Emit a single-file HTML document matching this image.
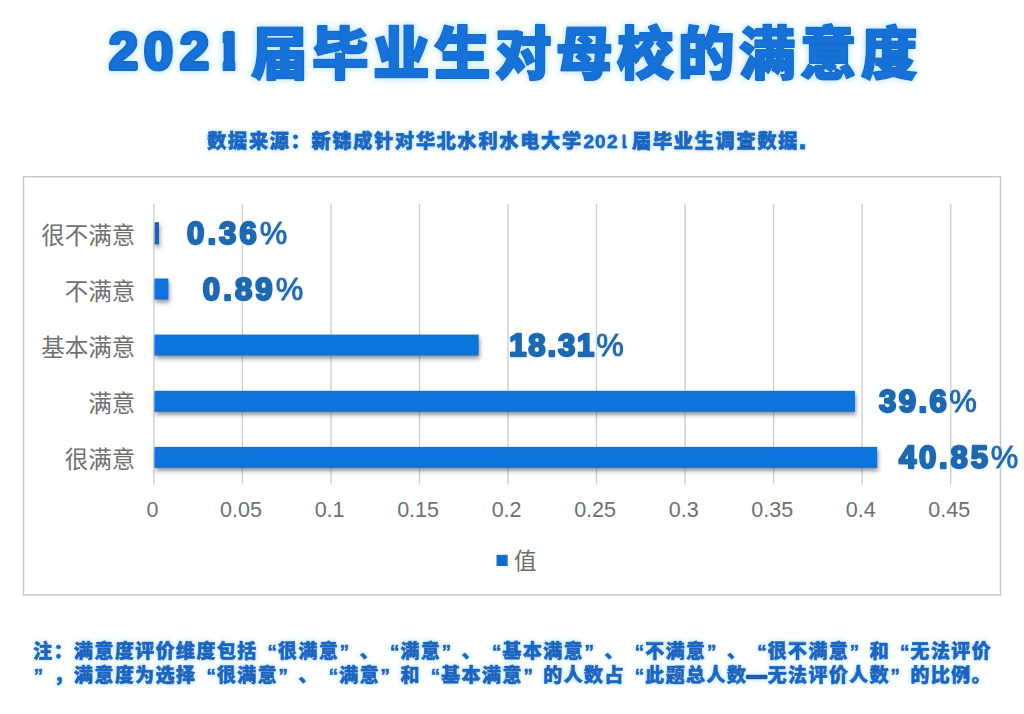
<!DOCTYPE html>
<html lang="zh-CN"><head><meta charset="utf-8"><title>2021届毕业生对母校的满意度</title>
<style>
html,body{margin:0;padding:0;background:#fff;}
body{width:1024px;height:714px;overflow:hidden;}
svg{display:block;}
.cjk{font-family:"Liberation Sans","Noto Sans CJK SC",sans-serif;}
.lat{font-family:"Liberation Sans",sans-serif;}
.title{font-weight:900;fill:#1272d8;stroke:#156cc9;stroke-width:2.1px;stroke-linejoin:round;paint-order:stroke fill;}
.sub{font-weight:900;font-size:19.2px;fill:#1868c8;stroke:#17559e;stroke-width:0.8px;stroke-linejoin:round;paint-order:stroke fill;}
.note{font-weight:900;font-size:19px;fill:#1766c6;stroke:#17529a;stroke-width:0.7px;stroke-linejoin:round;paint-order:stroke fill;}
.pc{font-weight:400;stroke-width:1.0px;}
.cat{font-weight:400;font-size:23.5px;fill:#707070;text-anchor:end;}
.ax{font-weight:400;font-size:21.5px;fill:#707070;text-anchor:middle;}
.val{font-weight:700;font-size:31px;fill:#1e69b0;stroke:#1e69b0;stroke-width:2.4px;stroke-linejoin:round;paint-order:stroke fill;}
</style></head><body>
<svg width="1024" height="714" viewBox="0 0 1024 714">
<defs>
<filter id="glow" x="-5%" y="-30%" width="110%" height="160%"><feGaussianBlur in="SourceAlpha" stdDeviation="3" result="b"/><feFlood flood-color="#c4ecff" flood-opacity="1"/><feComposite in2="b" operator="in" result="g"/><feMerge><feMergeNode in="g"/><feMergeNode in="g"/><feMergeNode in="SourceGraphic"/></feMerge></filter>
<filter id="glow2" x="-5%" y="-40%" width="110%" height="180%"><feGaussianBlur in="SourceAlpha" stdDeviation="2.2" result="b"/><feFlood flood-color="#c4ecff" flood-opacity="1"/><feComposite in2="b" operator="in" result="g"/><feMerge><feMergeNode in="g"/><feMergeNode in="g"/><feMergeNode in="SourceGraphic"/></feMerge></filter>
<filter id="glow3" x="-5%" y="-40%" width="110%" height="180%"><feGaussianBlur in="SourceAlpha" stdDeviation="1.6" result="b"/><feFlood flood-color="#d2eeff" flood-opacity="1"/><feComposite in2="b" operator="in" result="g"/><feMerge><feMergeNode in="g"/><feMergeNode in="SourceGraphic"/></feMerge></filter>
<filter id="bsh" x="-5%" y="-30%" width="110%" height="190%"><feGaussianBlur in="SourceAlpha" stdDeviation="1.9" result="b"/><feOffset in="b" dx="1.2" dy="3" result="o"/><feFlood flood-color="#3f4f68" flood-opacity="0.6"/><feComposite in2="o" operator="in" result="s"/><feMerge><feMergeNode in="s"/><feMergeNode in="SourceGraphic"/></feMerge></filter>
<clipPath id="c2021s"><rect x="578" y="120" width="40.6" height="40"/><rect x="622.6" y="120" width="4.3" height="40"/></clipPath>
<clipPath id="c2021"><rect x="95" y="10" width="117" height="80"/><rect x="222.7" y="10" width="12.7" height="80"/></clipPath>
<linearGradient id="bg" x1="0" y1="0" x2="0" y2="1"><stop offset="0" stop-color="#1c70c2"/><stop offset="0.14" stop-color="#0b74dc"/><stop offset="0.82" stop-color="#0874de"/><stop offset="1" stop-color="#186fc6"/></linearGradient>
</defs>
<rect x="0" y="0" width="1024" height="714" fill="#ffffff"/>
<g filter="url(#glow)" class="title cjk">
<text x="108.9 143.9 180.0 213.6" y="68.6" font-size="52" class="lat" clip-path="url(#c2021)" style="stroke-width:4.2px">2021</text>
<text x="251.0 312.0 373.0 434.0 495.0 556.0 617.0 678.0 739.0 800.0 861.0" y="73.5" font-size="56.5">届毕业生对母校的满意度</text>
</g>
<g filter="url(#glow2)" class="sub cjk">
<text x="207.2 228.1 248.9 269.8 290.7 311.6 332.4 353.3 374.2 395.0 415.9 436.8 457.6 478.5 499.4 520.2 541.1 562.0" y="148.4">数据来源：新锦成针对华北水利水电大学</text>
<text x="583.4 595.0 607.0 617.9" y="147.6" clip-path="url(#c2021s)">2021</text>
<text x="632.0 652.9 673.8 694.7 715.6 736.5 757.4 778.3" y="148.4">届毕业生调查数据</text>
<text x="798.6" y="148.6" font-size="30">.</text>
</g>
<rect x="23.5" y="176.7" width="977" height="418.3" fill="#ffffff" stroke="#c9c9c9" stroke-width="1.5"/>
<line x1="153.9" y1="204.0" x2="153.9" y2="484.5" stroke="#cfcfcf" stroke-width="1.4"/>
<line x1="242.4" y1="204.0" x2="242.4" y2="484.5" stroke="#cfcfcf" stroke-width="1.4"/>
<line x1="331.0" y1="204.0" x2="331.0" y2="484.5" stroke="#cfcfcf" stroke-width="1.4"/>
<line x1="419.5" y1="204.0" x2="419.5" y2="484.5" stroke="#cfcfcf" stroke-width="1.4"/>
<line x1="508.0" y1="204.0" x2="508.0" y2="484.5" stroke="#cfcfcf" stroke-width="1.4"/>
<line x1="596.5" y1="204.0" x2="596.5" y2="484.5" stroke="#cfcfcf" stroke-width="1.4"/>
<line x1="685.1" y1="204.0" x2="685.1" y2="484.5" stroke="#cfcfcf" stroke-width="1.4"/>
<line x1="773.6" y1="204.0" x2="773.6" y2="484.5" stroke="#cfcfcf" stroke-width="1.4"/>
<line x1="862.1" y1="204.0" x2="862.1" y2="484.5" stroke="#cfcfcf" stroke-width="1.4"/>
<line x1="950.7" y1="204.0" x2="950.7" y2="484.5" stroke="#cfcfcf" stroke-width="1.4"/>
<g filter="url(#bsh)" fill="url(#bg)">
<rect x="154.7" y="222.2" width="4.3" height="22.2" fill="#1c63b2"/>
<rect x="154.5" y="278.5" width="13.9" height="21"/>
<rect x="154.5" y="334.6" width="324.2" height="21"/>
<rect x="154.5" y="390.8" width="700.5" height="21"/>
<rect x="154.5" y="446.9" width="722.7" height="21"/>
</g>
<g class="cat cjk">
<text x="135.3" y="243.5">很不满意</text>
<text x="135.3" y="299.5">不满意</text>
<text x="135.3" y="355.6">基本满意</text>
<text x="135.3" y="411.8">满意</text>
<text x="135.3" y="467.9">很满意</text>
</g>
<g filter="url(#glow3)" class="val lat">
<text x="187.1" y="243.8" textLength="100.2" lengthAdjust="spacing">0.36<tspan class="pc">%</tspan></text>
<text x="202.8" y="299.8" textLength="100.5" lengthAdjust="spacing">0.89<tspan class="pc">%</tspan></text>
<text x="509.2" y="355.9" textLength="114.6" lengthAdjust="spacing">18.31<tspan class="pc">%</tspan></text>
<text x="878.9" y="412.1" textLength="98.0" lengthAdjust="spacing">39.6<tspan class="pc">%</tspan></text>
<text x="898.9" y="468.2" textLength="119.5" lengthAdjust="spacing">40.85<tspan class="pc">%</tspan></text>
</g>
<g class="ax lat">
<text x="152.5" y="517">0</text>
<text x="241.0" y="517">0.05</text>
<text x="329.6" y="517">0.1</text>
<text x="418.1" y="517">0.15</text>
<text x="506.6" y="517">0.2</text>
<text x="595.1" y="517">0.25</text>
<text x="683.7" y="517">0.3</text>
<text x="772.2" y="517">0.35</text>
<text x="860.7" y="517">0.4</text>
<text x="949.3" y="517">0.45</text>
</g>
<rect x="496.5" y="554.8" width="11.2" height="11.2" fill="#166bc9"/>
<text class="cjk" x="514" y="569" font-size="22.5" fill="#6b6b6b">值</text>
<g filter="url(#glow2)" class="note cjk">
<text x="33.3 53.7 74.1 94.5 114.9 135.3 155.7 176.1 196.5 216.9 237.3 267.6 278.1 298.5 318.9 339.8 359.7 390.0 400.5 420.9 441.8 461.7 492.0 502.5 522.9 543.3 563.7 584.6 604.5 634.8 645.3 665.7 686.1 707.0 726.9 757.2 767.7 788.1 808.5 828.9 849.8 869.7 900.0 910.5 930.9 951.3 971.7" y="658.2">注：满意度评价维度包括“很满意”、“满意”、“基本满意”、“不满意”、“很不满意”和“无法评价</text>
<text x="33.8 53.7 74.1 94.5 114.9 135.3 155.7 176.1 206.4 216.9 237.3 257.7 278.6 298.5 328.8 339.3 359.7 380.6 400.5 430.8 441.3 461.7 482.1 502.5 523.4 543.3 563.7 584.1 604.5 634.8 645.3 665.7 686.1 706.5 726.9 747.3 767.7 788.1 808.5 828.9 849.3 869.7 890.6 910.5 930.9 951.3 971.7" y="682.4">”，满意度为选择“很满意”、“满意”和“基本满意”的人数占“此题总人数<tspan style="stroke-width:2.6px">—</tspan>无法评价人数”的比例。</text>
</g>
</svg></body></html>
